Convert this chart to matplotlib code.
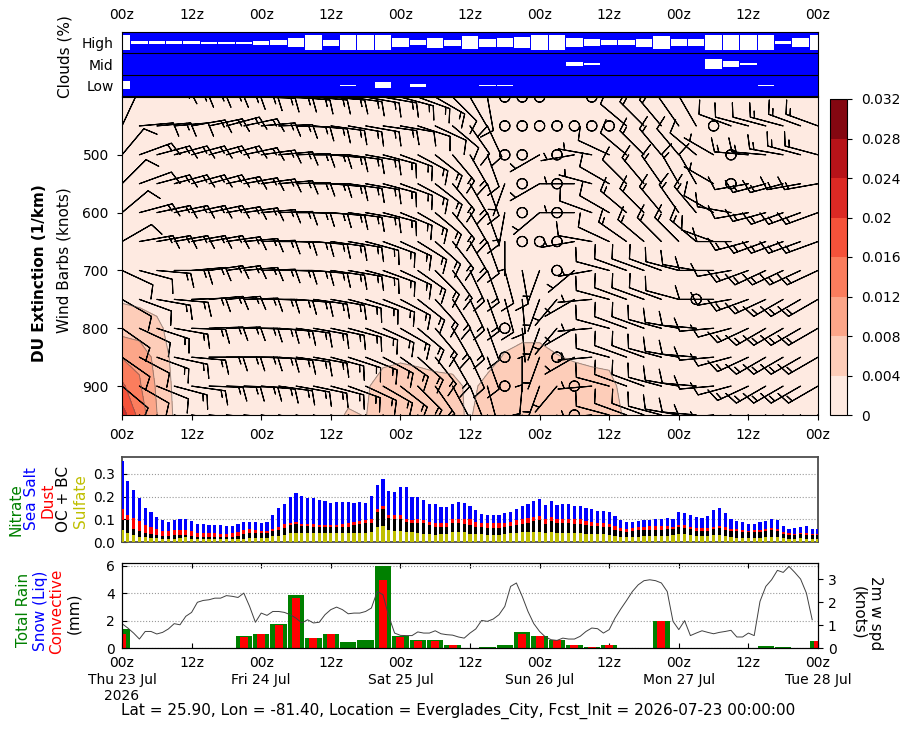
import numpy as np
import matplotlib
matplotlib.use("Agg")
import matplotlib.pyplot as plt

# ---------------- data ----------------
hours = np.arange(0, 121)            # hourly steps from 2026-07-23 00z
hours3 = np.arange(0, 121, 3)        # 3-hourly steps
wind_hours = np.arange(0, 120)
levels_hpa = [400, 450, 500, 550, 600, 650, 700, 750, 800, 850, 900, 950]

tick_hours = list(range(0, 121, 12))
tick_z = ["00z", "12z"] * 5 + ["00z"]
tick_dates = ["00z\nThu 23 Jul\n2026", "12z", "00z\nFri 24 Jul", "12z", "00z\nSat 25 Jul", "12z",
              "00z\nSun 26 Jul", "12z", "00z\nMon 27 Jul", "12z", "00z\nTue 28 Jul"]

# cloud cover (%), 3-hourly
high_cf = [0, 82, 82, 82, 82, 86, 86, 86, 74, 65, 39, 0, 62, 0, 0, 0, 39, 67, 35, 62, 12,
           49, 40, 28, 5, 5, 39, 56, 69, 69, 47, 18, 56, 56, 5, 5, 5, 5, 82, 39, 0]
mid_cf = [100, 100, 100, 100, 100, 100, 100, 100, 100, 100, 100, 100, 100, 100, 100, 100, 100,
          100, 100, 100, 100, 100, 100, 100, 100, 100, 75, 85, 100, 100, 100, 100, 100, 100,
          37, 64, 89, 100, 100, 100, 100]
low_cf = [48, 100, 100, 100, 100, 100, 100, 100, 100, 100, 100, 100, 100, 95, 100, 61, 100,
          83, 100, 100, 100, 95, 95, 100, 100, 100, 100, 100, 100, 100, 100, 100, 100, 100,
          100, 100, 100, 95, 100, 100, 100]

# dust extinction (1/km), 3-hourly, one list per pressure level
dust_400 = [0.0018, 0.0018, 0.0019, 0.0019, 0.0020, 0.0020, 0.0020, 0.0021, 0.0021, 0.0021, 0.0022,
            0.0022, 0.0022, 0.0022, 0.0021, 0.0021, 0.0020, 0.0020, 0.0020, 0.0019, 0.0019, 0.0019,
            0.0018, 0.0018, 0.0018, 0.0018, 0.0017, 0.0017, 0.0017, 0.0017, 0.0016, 0.0016, 0.0016,
            0.0016, 0.0016, 0.0015, 0.0015, 0.0015, 0.0015, 0.0015, 0.0015]
dust_450 = [0.0019, 0.0019, 0.0020, 0.0020, 0.0021, 0.0021, 0.0021, 0.0022, 0.0022, 0.0022, 0.0023,
            0.0023, 0.0023, 0.0023, 0.0022, 0.0022, 0.0021, 0.0021, 0.0021, 0.0020, 0.0020, 0.0020,
            0.0019, 0.0019, 0.0019, 0.0019, 0.0018, 0.0018, 0.0018, 0.0018, 0.0017, 0.0017, 0.0017,
            0.0017, 0.0017, 0.0016, 0.0016, 0.0016, 0.0016, 0.0016, 0.0016]
dust_500 = [0.0020, 0.0020, 0.0021, 0.0021, 0.0022, 0.0022, 0.0022, 0.0023, 0.0023, 0.0023, 0.0024,
            0.0024, 0.0024, 0.0024, 0.0023, 0.0023, 0.0022, 0.0022, 0.0022, 0.0021, 0.0021, 0.0021,
            0.0020, 0.0020, 0.0020, 0.0020, 0.0019, 0.0019, 0.0019, 0.0019, 0.0018, 0.0018, 0.0018,
            0.0018, 0.0018, 0.0017, 0.0017, 0.0017, 0.0017, 0.0017, 0.0017]
dust_550 = [0.0021, 0.0021, 0.0022, 0.0022, 0.0023, 0.0023, 0.0023, 0.0024, 0.0024, 0.0024, 0.0025,
            0.0025, 0.0025, 0.0025, 0.0024, 0.0024, 0.0023, 0.0023, 0.0023, 0.0022, 0.0022, 0.0022,
            0.0021, 0.0021, 0.0021, 0.0021, 0.0020, 0.0020, 0.0020, 0.0020, 0.0019, 0.0019, 0.0019,
            0.0019, 0.0019, 0.0018, 0.0018, 0.0018, 0.0018, 0.0018, 0.0018]
dust_600 = [0.0022, 0.0022, 0.0023, 0.0023, 0.0024, 0.0024, 0.0024, 0.0025, 0.0025, 0.0025, 0.0026,
            0.0026, 0.0026, 0.0026, 0.0025, 0.0025, 0.0024, 0.0024, 0.0024, 0.0023, 0.0023, 0.0023,
            0.0022, 0.0022, 0.0022, 0.0022, 0.0021, 0.0021, 0.0021, 0.0021, 0.0020, 0.0020, 0.0020,
            0.0020, 0.0020, 0.0019, 0.0019, 0.0019, 0.0019, 0.0019, 0.0019]
dust_650 = [0.0023, 0.0023, 0.0024, 0.0024, 0.0024, 0.0024, 0.0024, 0.0025, 0.0025, 0.0025, 0.0026,
            0.0026, 0.0026, 0.0026, 0.0025, 0.0025, 0.0024, 0.0024, 0.0024, 0.0023, 0.0023, 0.0023,
            0.0023, 0.0023, 0.0023, 0.0022, 0.0022, 0.0021, 0.0021, 0.0021, 0.0020, 0.0020, 0.0020,
            0.0020, 0.0020, 0.0019, 0.0019, 0.0019, 0.0019, 0.0019, 0.0019]
dust_700 = [0.0028, 0.0026, 0.0025, 0.0024, 0.0023, 0.0023, 0.0023, 0.0023, 0.0023, 0.0024, 0.0024,
            0.0025, 0.0025, 0.0025, 0.0025, 0.0025, 0.0025, 0.0024, 0.0024, 0.0024, 0.0024, 0.0024,
            0.0025, 0.0026, 0.0026, 0.0025, 0.0024, 0.0023, 0.0023, 0.0022, 0.0021, 0.0021, 0.0020,
            0.0020, 0.0020, 0.0019, 0.0019, 0.0019, 0.0018, 0.0018, 0.0018]
dust_750 = [0.0036, 0.0034, 0.0030, 0.0026, 0.0024, 0.0023, 0.0022, 0.0022, 0.0022, 0.0023, 0.0023,
            0.0024, 0.0024, 0.0025, 0.0026, 0.0026, 0.0027, 0.0026, 0.0026, 0.0025, 0.0025, 0.0026,
            0.0028, 0.0029, 0.0029, 0.0028, 0.0026, 0.0025, 0.0025, 0.0024, 0.0023, 0.0022, 0.0021,
            0.0021, 0.0020, 0.0020, 0.0019, 0.0019, 0.0018, 0.0018, 0.0018]
dust_800 = [0.0065, 0.0055, 0.0047, 0.0028, 0.0025, 0.0023, 0.0022, 0.0022, 0.0022, 0.0023, 0.0024,
            0.0025, 0.0025, 0.0026, 0.0027, 0.0028, 0.0029, 0.0028, 0.0027, 0.0026, 0.0026, 0.0028,
            0.0031, 0.0034, 0.0034, 0.0031, 0.0029, 0.0028, 0.0027, 0.0025, 0.0024, 0.0023, 0.0022,
            0.0022, 0.0021, 0.0020, 0.0020, 0.0019, 0.0019, 0.0018, 0.0018]
dust_850 = [0.0118, 0.0112, 0.0065, 0.0030, 0.0026, 0.0024, 0.0023, 0.0023, 0.0023, 0.0024, 0.0025,
            0.0026, 0.0027, 0.0028, 0.0030, 0.0033, 0.0036, 0.0034, 0.0031, 0.0030, 0.0029, 0.0032,
            0.0042, 0.0046, 0.0046, 0.0041, 0.0038, 0.0036, 0.0035, 0.0030, 0.0026, 0.0025, 0.0024,
            0.0023, 0.0022, 0.0021, 0.0020, 0.0020, 0.0019, 0.0019, 0.0018]
dust_900 = [0.0168, 0.0125, 0.0075, 0.0033, 0.0028, 0.0026, 0.0025, 0.0024, 0.0024, 0.0025, 0.0026,
            0.0027, 0.0028, 0.0030, 0.0036, 0.0052, 0.0056, 0.0052, 0.0049, 0.0047, 0.0035, 0.0046,
            0.0055, 0.0060, 0.0060, 0.0056, 0.0050, 0.0048, 0.0046, 0.0032, 0.0028, 0.0026, 0.0025,
            0.0024, 0.0023, 0.0022, 0.0021, 0.0021, 0.0020, 0.0020, 0.0019]
dust_950 = [0.0220, 0.0145, 0.0081, 0.0036, 0.0030, 0.0028, 0.0026, 0.0025, 0.0025, 0.0026, 0.0027,
            0.0028, 0.0030, 0.0043, 0.0039, 0.0055, 0.0058, 0.0056, 0.0055, 0.0044, 0.0038, 0.0052,
            0.0058, 0.0062, 0.0062, 0.0060, 0.0058, 0.0058, 0.0056, 0.0034, 0.0030, 0.0028, 0.0026,
            0.0025, 0.0024, 0.0023, 0.0022, 0.0022, 0.0021, 0.0021, 0.0020]

# wind direction (deg, from) and speed (knots), 3-hourly, per level
wdir_400 = [30, 70, 80, 85, 85, 85, 88, 90, 92, 92, 95, 95, 95, 98, 100, 100, 105, 110, 120, 135, 150,
            170, 0, 0, 0, 300, 300, 0, 275, 300, 320, 330, 330, 320, 300, 290, 285, 280, 280, 280, 280]
wspd_400 = [10, 10, 15, 15, 15, 15, 15, 15, 15, 15, 15, 15, 15, 15, 15, 15, 15, 15, 15, 10, 10,
            10, 0, 0, 0, 5, 5, 0, 10, 10, 10, 15, 15, 10, 10, 10, 15, 15, 15, 15, 15]
wdir_450 = [25, 85, 85, 85, 80, 78, 75, 78, 85, 88, 92, 95, 98, 100, 100, 98, 100, 108, 115, 130, 145,
            155, 0, 0, 0, 0, 0, 0, 0, 310, 315, 320, 325, 330, 0, 290, 285, 285, 285, 290, 290]
wspd_450 = [10, 10, 15, 10, 15, 15, 15, 15, 15, 15, 15, 15, 15, 15, 15, 15, 10, 10, 10, 10, 10,
            10, 0, 0, 0, 0, 0, 0, 0, 10, 15, 15, 10, 10, 0, 10, 10, 10, 15, 15, 15]
wdir_500 = [40, 70, 75, 75, 75, 75, 75, 78, 82, 85, 88, 90, 95, 98, 100, 105, 110, 118, 128, 140, 150,
            160, 0, 0, 240, 0, 260, 280, 295, 310, 315, 320, 320, 310, 300, 0, 275, 275, 280, 285, 285]
wspd_500 = [10, 15, 15, 15, 15, 15, 15, 15, 15, 15, 15, 15, 15, 15, 15, 15, 15, 15, 15, 15, 15,
            10, 0, 0, 5, 0, 5, 5, 10, 10, 15, 15, 10, 10, 5, 0, 15, 15, 15, 15, 15]
wdir_550 = [45, 70, 75, 75, 75, 75, 78, 80, 82, 85, 88, 90, 95, 98, 100, 105, 110, 118, 128, 140, 150,
            160, 200, 0, 240, 0, 270, 285, 300, 315, 320, 325, 330, 330, 300, 0, 260, 255, 255, 260, 260]
wspd_550 = [10, 10, 15, 15, 15, 15, 15, 15, 15, 15, 15, 15, 15, 15, 15, 15, 15, 15, 15, 15, 15,
            10, 5, 0, 5, 0, 5, 5, 10, 10, 15, 15, 15, 10, 5, 0, 10, 15, 15, 15, 15]
wdir_600 = [50, 75, 78, 78, 78, 78, 80, 82, 85, 88, 90, 92, 95, 98, 100, 105, 112, 120, 130, 140, 150,
            160, 190, 0, 230, 0, 270, 290, 300, 310, 315, 320, 325, 320, 300, 280, 260, 255, 250, 250, 250]
wspd_600 = [10, 15, 15, 15, 15, 15, 15, 15, 15, 15, 15, 15, 15, 15, 15, 15, 15, 15, 15, 15, 15,
            10, 5, 0, 5, 0, 5, 10, 10, 15, 15, 15, 15, 15, 10, 10, 10, 15, 15, 15, 15]
wdir_650 = [60, 80, 80, 80, 80, 80, 82, 85, 88, 90, 92, 95, 98, 100, 105, 110, 115, 122, 132, 142, 150,
            160, 180, 0, 0, 0, 260, 280, 295, 305, 310, 315, 315, 310, 290, 270, 255, 250, 250, 250, 250]
wspd_650 = [10, 15, 15, 15, 15, 15, 15, 15, 15, 15, 15, 15, 15, 15, 15, 15, 15, 15, 15, 15, 15,
            10, 5, 0, 0, 0, 5, 10, 10, 15, 15, 15, 15, 15, 10, 10, 15, 15, 15, 15, 15]
wdir_700 = [115, 105, 95, 90, 85, 82, 82, 85, 88, 90, 92, 95, 98, 100, 105, 110, 115, 125, 135, 145, 155,
            160, 165, 170, 200, 0, 230, 260, 285, 290, 290, 290, 285, 280, 270, 260, 250, 245, 245, 245, 245]
wspd_700 = [10, 10, 15, 15, 15, 15, 15, 15, 15, 15, 15, 15, 15, 15, 15, 15, 15, 15, 15, 15, 15,
            15, 10, 10, 5, 0, 5, 5, 10, 10, 10, 10, 10, 10, 10, 10, 15, 15, 15, 15, 15]
wdir_750 = [120, 110, 100, 95, 88, 85, 85, 88, 90, 92, 95, 98, 100, 105, 108, 112, 118, 128, 138, 148, 155,
            160, 165, 175, 200, 220, 240, 265, 285, 290, 290, 290, 285, 0, 270, 260, 250, 245, 240, 240, 240]
wspd_750 = [10, 10, 15, 15, 15, 15, 15, 15, 15, 15, 15, 15, 15, 15, 15, 15, 15, 15, 15, 15, 15,
            15, 10, 10, 5, 5, 5, 5, 10, 10, 10, 10, 10, 0, 10, 10, 15, 15, 15, 15, 15]
wdir_800 = [125, 115, 108, 100, 92, 88, 88, 90, 92, 95, 98, 100, 102, 105, 110, 115, 120, 130, 140, 150, 155,
            160, 0, 175, 200, 220, 240, 265, 285, 290, 290, 285, 280, 275, 265, 255, 245, 240, 240, 240, 240]
wspd_800 = [10, 10, 15, 15, 15, 15, 15, 15, 15, 15, 15, 15, 15, 15, 15, 15, 15, 15, 15, 15, 15,
            10, 0, 5, 5, 5, 5, 5, 10, 10, 10, 10, 10, 10, 10, 10, 15, 15, 15, 15, 15]
wdir_850 = [125, 118, 110, 102, 95, 90, 90, 90, 92, 95, 98, 100, 105, 108, 112, 118, 125, 132, 142, 150, 155,
            160, 0, 180, 200, 0, 240, 265, 285, 290, 290, 285, 280, 275, 265, 255, 245, 240, 240, 240, 240]
wspd_850 = [10, 10, 15, 15, 15, 15, 15, 15, 15, 15, 15, 15, 15, 15, 15, 15, 15, 15, 15, 15, 10,
            10, 0, 5, 5, 0, 5, 5, 10, 10, 10, 10, 10, 10, 10, 10, 15, 15, 15, 15, 15]
wdir_900 = [130, 120, 112, 105, 98, 92, 92, 92, 95, 98, 100, 102, 105, 110, 115, 120, 128, 135, 145, 152, 158,
            165, 0, 185, 200, 220, 0, 265, 285, 290, 290, 285, 280, 275, 265, 255, 245, 240, 240, 240, 240]
wspd_900 = [10, 10, 10, 15, 15, 15, 15, 15, 15, 15, 15, 15, 15, 15, 15, 15, 15, 15, 15, 10, 10,
            10, 0, 5, 5, 5, 0, 5, 10, 10, 10, 10, 10, 10, 10, 10, 15, 15, 15, 15, 15]
wdir_950 = [130, 120, 112, 105, 98, 95, 95, 95, 98, 100, 102, 105, 108, 112, 118, 125, 130, 138, 145, 152, 158,
            165, 170, 185, 200, 220, 0, 265, 285, 290, 290, 285, 280, 275, 265, 255, 245, 240, 240, 240, 240]
wspd_950 = [10, 10, 10, 10, 10, 10, 10, 10, 10, 10, 10, 10, 10, 10, 10, 10, 10, 10, 10, 10, 10,
            10, 5, 5, 5, 5, 0, 5, 10, 10, 10, 10, 10, 10, 10, 10, 10, 10, 10, 10, 10]

# aerosol optical depth components, hourly
sulfate = [0.053, 0.041, 0.031, 0.024, 0.021, 0.016, 0.016, 0.013, 0.013, 0.013, 0.016, 0.021, 0.015,
           0.013, 0.012, 0.012, 0.012, 0.012, 0.012, 0.012, 0.013, 0.015, 0.016, 0.016, 0.016, 0.019,
           0.026, 0.026, 0.031, 0.038, 0.041, 0.041, 0.041, 0.041, 0.041, 0.041, 0.038, 0.038, 0.041,
           0.041, 0.041, 0.041, 0.041, 0.046, 0.065, 0.071, 0.053, 0.050, 0.050, 0.044, 0.044, 0.041,
           0.035, 0.035, 0.031, 0.035, 0.035, 0.044, 0.044, 0.044, 0.035, 0.035, 0.035, 0.031, 0.031,
           0.031, 0.035, 0.038, 0.041, 0.044, 0.044, 0.046, 0.044, 0.041, 0.044, 0.041, 0.038, 0.038,
           0.038, 0.038, 0.035, 0.035, 0.034, 0.034, 0.031, 0.026, 0.022, 0.022, 0.022, 0.022, 0.026,
           0.026, 0.026, 0.026, 0.026, 0.031, 0.035, 0.035, 0.031, 0.026, 0.026, 0.026, 0.031, 0.031,
           0.026, 0.022, 0.018, 0.018, 0.018, 0.018, 0.018, 0.022, 0.022, 0.022, 0.018, 0.013, 0.013,
           0.016, 0.013, 0.013, 0.013]
oc_bc = [0.044, 0.056, 0.025, 0.025, 0.018, 0.018, 0.015, 0.013, 0.013, 0.016, 0.015, 0.010, 0.013,
         0.010, 0.012, 0.012, 0.012, 0.012, 0.012, 0.012, 0.015, 0.019, 0.022, 0.022, 0.022, 0.019,
         0.024, 0.029, 0.029, 0.037, 0.038, 0.029, 0.029, 0.026, 0.026, 0.024, 0.026, 0.026, 0.026,
         0.026, 0.034, 0.038, 0.041, 0.040, 0.069, 0.074, 0.051, 0.051, 0.050, 0.046, 0.041, 0.044,
         0.047, 0.040, 0.034, 0.029, 0.029, 0.038, 0.038, 0.035, 0.040, 0.032, 0.029, 0.032, 0.031,
         0.031, 0.029, 0.032, 0.034, 0.035, 0.041, 0.047, 0.053, 0.038, 0.047, 0.041, 0.044, 0.044,
         0.041, 0.041, 0.038, 0.035, 0.037, 0.031, 0.034, 0.029, 0.028, 0.022, 0.026, 0.031, 0.026,
         0.029, 0.029, 0.029, 0.032, 0.026, 0.029, 0.026, 0.025, 0.024, 0.022, 0.022, 0.025, 0.031,
         0.029, 0.028, 0.029, 0.026, 0.025, 0.024, 0.026, 0.028, 0.031, 0.026, 0.018, 0.018, 0.016,
         0.018, 0.019, 0.016, 0.016]
dust_aod = [0.049, 0.021, 0.049, 0.044, 0.037, 0.031, 0.028, 0.022, 0.022, 0.022, 0.022, 0.022, 0.022,
            0.018, 0.015, 0.015, 0.015, 0.013, 0.012, 0.015, 0.018, 0.019, 0.018, 0.015, 0.012, 0.012,
            0.006, 0.009, 0.018, 0.007, 0.010, 0.009, 0.009, 0.012, 0.010, 0.010, 0.010, 0.010, 0.012,
            0.018, 0.015, 0.013, 0.015, 0.015, 0.010, 0.012, 0.015, 0.018, 0.019, 0.012, 0.012, 0.015,
            0.015, 0.015, 0.021, 0.018, 0.018, 0.018, 0.018, 0.021, 0.025, 0.022, 0.018, 0.019, 0.021,
            0.021, 0.021, 0.019, 0.022, 0.021, 0.019, 0.019, 0.018, 0.021, 0.018, 0.018, 0.021, 0.021,
            0.021, 0.021, 0.019, 0.018, 0.012, 0.018, 0.015, 0.015, 0.012, 0.015, 0.013, 0.012, 0.015,
            0.015, 0.015, 0.015, 0.012, 0.010, 0.013, 0.013, 0.009, 0.012, 0.013, 0.015, 0.009, 0.009,
            0.009, 0.009, 0.009, 0.009, 0.006, 0.009, 0.010, 0.009, 0.009, 0.010, 0.009, 0.007, 0.006,
            0.004, 0.006, 0.006, 0.006]
sea_salt = [0.212, 0.151, 0.125, 0.103, 0.075, 0.069, 0.051, 0.049, 0.041, 0.044, 0.047, 0.050, 0.043,
            0.038, 0.041, 0.038, 0.037, 0.038, 0.035, 0.032, 0.034, 0.035, 0.034, 0.035, 0.035, 0.038,
            0.062, 0.084, 0.088, 0.115, 0.125, 0.124, 0.113, 0.113, 0.107, 0.106, 0.096, 0.103, 0.099,
            0.093, 0.084, 0.084, 0.074, 0.100, 0.107, 0.121, 0.106, 0.101, 0.122, 0.141, 0.100, 0.097,
            0.088, 0.076, 0.081, 0.074, 0.074, 0.068, 0.078, 0.074, 0.059, 0.051, 0.041, 0.037, 0.037,
            0.037, 0.044, 0.044, 0.049, 0.059, 0.063, 0.069, 0.075, 0.063, 0.072, 0.063, 0.065, 0.065,
            0.059, 0.059, 0.057, 0.057, 0.054, 0.054, 0.053, 0.044, 0.035, 0.029, 0.026, 0.028, 0.029,
            0.026, 0.031, 0.031, 0.035, 0.034, 0.054, 0.053, 0.054, 0.049, 0.044, 0.051, 0.076, 0.079,
            0.063, 0.043, 0.037, 0.035, 0.031, 0.029, 0.034, 0.034, 0.040, 0.038, 0.026, 0.019, 0.026,
            0.028, 0.032, 0.022, 0.022]

# precipitation (mm / 3 h)
total_rain = [1.35, 0, 0, 0, 0, 0, 0, 0.9, 1.05, 1.72, 3.85, 0.76, 1.05, 0.47, 0.61, 6.0, 0.9, 0.61,
              0.56, 0.25, 0, 0.07, 0.25, 1.15, 0.9, 0.61, 0.25, 0.07, 0.25, 0, 0, 2.0, 0, 0, 0, 0,
              0, 0.17, 0.1, 0, 0.49]
convective = [1.05, 0, 0, 0, 0, 0, 0, 0.83, 1.05, 1.67, 3.63, 0.76, 1.05, 0, 0, 4.95, 0.78, 0.54,
              0.54, 0.25, 0, 0, 0, 1.05, 0.9, 0.56, 0.25, 0.07, 0.25, 0, 0, 2.0, 0, 0, 0, 0,
              0, 0, 0, 0, 0.49]
# 2 m wind speed (knots), hourly
wind2m = [1.06, 0.87, 0.65, 0.39, 0.72, 0.72, 0.61, 0.68, 0.83, 1.06,
          1.01, 1.38, 1.55, 1.99, 2.07, 2.10, 2.17, 2.17, 2.28, 2.25,
          2.20, 2.39, 1.81, 1.12, 1.52, 1.42, 1.59, 1.59, 1.55, 1.45,
          1.30, 1.09, 1.23, 1.09, 1.12, 1.45, 1.67, 1.78, 1.67, 1.49,
          1.52, 1.52, 1.59, 1.74, 2.46, 2.32, 1.38, 0.65, 0.55, 0.54,
          0.54, 0.70, 0.65, 0.65, 0.75, 0.62, 0.58, 0.56, 0.48, 0.43,
          0.65, 0.83, 1.20, 1.16, 1.26, 1.45, 1.81, 2.68, 2.83, 2.25,
          1.59, 1.06, 0.72, 0.48, 0.36, 0.33, 0.43, 0.39, 0.39, 0.51,
          0.72, 0.87, 0.84, 0.65, 0.80, 1.30, 1.70, 2.07, 2.46, 2.75,
          2.93, 2.97, 2.93, 2.83, 2.46, 1.16, 0.80, 1.19, 0.54, 0.65,
          0.75, 0.68, 0.62, 0.68, 0.72, 0.77, 0.48, 0.48, 0.65, 0.54,
          2.03, 2.68, 2.97, 3.38, 3.29, 3.55, 3.29, 3.00, 2.39, 1.23]

title = "Lat = 25.90, Lon = -81.40, Location = Everglades_City, Fcst_Init = 2026-07-23 00:00:00"

# ---------------- figure ----------------
W, H = 909, 730
fig = plt.figure(figsize=(W / 100, H / 100), dpi=100)


def px_box(x0, y0, x1, y1):
    return [x0 / W, 1 - y1 / H, (x1 - x0) / W, (y1 - y0) / H]


def px_text(x, y, s, **kw):
    fig.text(x / W, 1 - y / H, s, ha="center", va="center", **kw)


ax_cld = fig.add_axes(px_box(122, 32, 818, 96))
ax_main = fig.add_axes(px_box(122, 97, 818, 415))
cax = fig.add_axes(px_box(830, 99, 847, 415))
ax_aer = fig.add_axes(px_box(122, 457, 818, 542))
ax_pcp = fig.add_axes(px_box(122, 563, 818, 648))

# clouds: blue = cloud, white box = clear part
ax_cld.set_facecolor("blue")
for row, cf in enumerate([low_cf, mid_cf, high_cf]):
    h = (100 - np.array(cf)) / 100 * 0.72
    ax_cld.bar(hours3, h, width=2.8, bottom=row + 0.5 - h / 2, color="white", linewidth=0)
for yl in (1, 2):
    ax_cld.axhline(yl, color="k", lw=0.8)
ax_cld.set_xlim(0, 120)
ax_cld.set_ylim(0, 3)
ax_cld.set_yticks([0.5, 1.5, 2.5])
ax_cld.set_yticklabels(["Low", "Mid", "High"])
ax_cld.tick_params(axis="y", length=0, pad=6)
ax_cld.xaxis.tick_top()
ax_cld.set_xticks(tick_hours)
ax_cld.set_xticklabels(tick_z)
ax_cld.tick_params(axis="x", length=0, pad=7)
px_text(65, 57, "Clouds (%)", rotation=90, fontsize=11)

# dust extinction + wind barbs
T, P = np.meshgrid(hours3, levels_hpa)
dust = np.array([dust_400, dust_450, dust_500, dust_550, dust_600, dust_650,
                 dust_700, dust_750, dust_800, dust_850, dust_900, dust_950])
clev = np.arange(0, 0.0321, 0.004)
cs = ax_main.contourf(T, P, dust, levels=clev, cmap="Reds", vmin=0, vmax=0.032)
ax_main.contour(T, P, dust, levels=clev[1:], colors="0.35", linewidths=0.7, alpha=0.6)

wdir = np.array([wdir_400, wdir_450, wdir_500, wdir_550, wdir_600, wdir_650,
                 wdir_700, wdir_750, wdir_800, wdir_850, wdir_900, wdir_950], dtype=float)
wspd = np.array([wspd_400, wspd_450, wspd_500, wspd_550, wspd_600, wspd_650,
                 wspd_700, wspd_750, wspd_800, wspd_850, wspd_900, wspd_950], dtype=float)
u = -wspd * np.sin(np.deg2rad(wdir))
v = -wspd * np.cos(np.deg2rad(wdir))
ax_main.barbs(T, P, u, v, length=7, linewidth=0.8)
ax_main.set_xlim(0, 120)
ax_main.set_ylim(950, 400)
ax_main.set_yticks([500, 600, 700, 800, 900])
ax_main.set_xticks(tick_hours)
ax_main.set_xticklabels(tick_z)
ax_main.tick_params(labelsize=10, pad=6)
px_text(40, 273, "DU Extinction (1/km)", rotation=90, fontsize=11, fontweight="bold")
px_text(64, 260, "Wind Barbs (knots)", rotation=90, fontsize=11)

cb = fig.colorbar(cs, cax=cax, ticks=clev, format="%g")
cb.ax.tick_params(labelsize=10, pad=7)

# aerosol stacked bars
base = np.zeros(len(hours))
for vals, col in [(sulfate, "y"), (oc_bc, "k"), (dust_aod, "r"), (sea_salt, "b")]:
    ax_aer.bar(hours, vals, width=0.55, bottom=base, color=col, linewidth=0, zorder=3)
    base = base + np.array(vals)
ax_aer.set_xlim(0, 120)
ax_aer.set_ylim(0, 0.375)
ax_aer.set_yticks([0.0, 0.1, 0.2, 0.3])
ax_aer.set_yticklabels(["0.0", "0.1", "0.2", "0.3"])
ax_aer.set_xticks([])
ax_aer.tick_params(axis="y", direction="in", pad=5)
ax_aer.grid(axis="y", linestyle=":", color="0.6")
ax_aer.set_axisbelow(True)
for s in ax_aer.spines.values():
    s.set_color("0.3")
    s.set_linewidth(1.3)
for x, y, s, c in [(16, 510, "Nitrate", "g"), (31, 499, "Sea Salt", "b"), (48, 500, "Dust", "r"),
                   (64, 499, "OC + BC", "k"), (80, 501, "Sulfate", "y")]:
    px_text(x, y, s, rotation=90, color=c, fontsize=11)

# precipitation + 2 m wind
ax_pcp.bar(hours3, total_rain, width=2.8, color="g", linewidth=0)
ax_pcp.bar(hours3, convective, width=1.4, color="r", linewidth=0)
ax_pcp.set_xlim(0, 120)
ax_pcp.set_ylim(0, 6.2)
ax_pcp.set_yticks([0, 2, 4, 6])
ax_pcp.grid(axis="y", linestyle=":", color="0.6")
ax_pcp.set_axisbelow(True)
ax_pcp.set_xticks(tick_hours)
ax_pcp.set_xticklabels(tick_dates)
ax_pcp.tick_params(axis="x", direction="in", top=True, pad=6)
ax_pcp.tick_params(axis="y", direction="in", pad=5)
ax2 = ax_pcp.twinx()
ax2.plot(wind_hours, wind2m, color="0.25", lw=0.7)
ax2.set_ylim(0, 3.7)
ax2.set_yticks([0, 1, 2, 3])
ax2.set_xlim(0, 120)
for x, y, s, c in [(24, 610, "Total Rain", "g"), (41, 611, "Snow (Liq)", "b"),
                   (57, 611, "Convective", "r"), (74, 613, "(mm)", "k")]:
    px_text(x, y, s, rotation=90, color=c, fontsize=11)
px_text(867, 613, "2m w spd\n(knots)", rotation=270, fontsize=11)

px_text(458, 711, title, fontsize=11)

fig.savefig("out.png", dpi=100)
